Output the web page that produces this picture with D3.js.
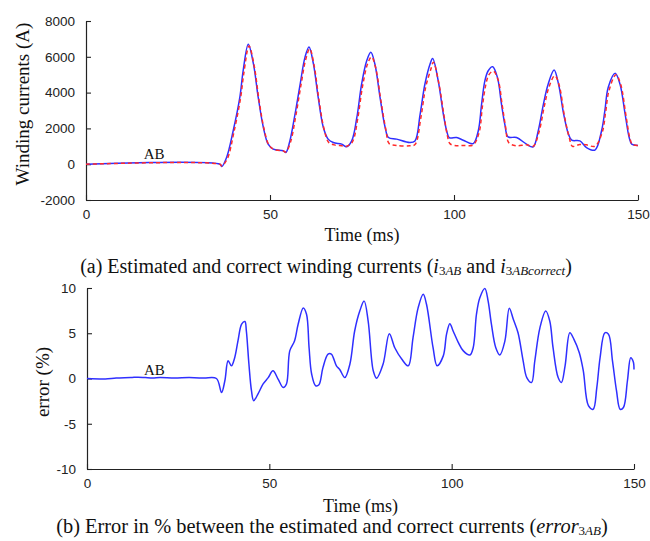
<!DOCTYPE html>
<html>
<head>
<meta charset="utf-8">
<script src="https://cdn.jsdelivr.net/npm/d3@7"></script>
<style>
  html, body { margin: 0; padding: 0; background: #fff; }
  svg { display: block; }
  .tick-label { font-family: "Liberation Sans", Arial, sans-serif; font-size: 13.5px; fill: #222; }
  .serif { font-family: "Liberation Serif", "Times New Roman", serif; fill: #111; }
</style>
</head>
<body>
<svg id="chart" width="650" height="541"></svg>
<script>
// Estimated winding current i3AB (A) against time (ms)
const timeEst = [0, 36.4, 36.9, 38.2, 40.0, 41.8, 42.7, 44.1, 45.5, 46.8, 48.2, 49.5, 50.9, 53.6, 54.3, 55.4,
  56.8, 58.2, 59.5, 60.6, 61.8, 63.1, 64.5, 65.8, 67.2, 69.5, 70.8, 72.2, 73.6, 74.9, 76.3, 77.4, 78.5, 79.9,
  81.3, 82.2, 84.4, 88.0, 89.4, 90.8, 92.1, 93.5, 94.2, 95.7, 97.1, 98.0, 98.7, 100.7, 102.5, 105.2, 106.6,
  107.5, 108.4, 109.3, 110.5, 111.8, 112.9, 113.8, 114.7, 117.0, 119.7, 121.5, 122.9, 124.3, 125.6, 127.2,
  128.4, 129.8, 131.1, 132.0, 134.2, 136.0, 138.3, 140.1, 141.0, 141.9, 143.8, 145.1, 146.5, 147.6, 148.3, 150];
const currentEst = [0, 0, -130, 370, 1870, 3730, 5220, 6700, 5600, 3730, 2050, 1120, 840, 750, 650, 1300,
  2800, 4480, 5970, 6550, 5600, 3730, 2050, 1400, 1210, 1120, 970, 1300, 2610, 4480, 5790, 6250, 5600, 3730,
  2050, 1490, 1400, 1210, 1300, 2800, 4480, 5600, 5900, 4670, 2800, 1870, 1490, 1490, 1340, 1150, 1870,
  3360, 4670, 5220, 5450, 4850, 3360, 2240, 1530, 1490, 1120, 970, 1870, 3360, 4480, 5260,
  4480, 2800, 1680, 1340, 1300, 930, 790, 1870, 2990, 4290, 5080, 4480, 2800, 1490, 1120, 1050];

// Correct winding current i3ABcorrect (A) against time (ms)
const timeCorrect = [0, 36.4, 36.9, 38.4, 40.2, 42.0, 42.9, 44.3, 45.7, 47.0, 48.4, 49.7, 51.1, 53.6, 54.3,
  55.6, 57.0, 58.4, 59.7, 60.8, 62.0, 63.3, 64.7, 66.0, 67.5, 69.5, 70.8, 72.4, 73.8, 75.1, 76.5, 77.6, 78.7,
  80.1, 81.5, 82.4, 84.4, 88.0, 89.4, 91.0, 92.3, 93.7, 94.4, 95.9, 97.3, 98.2, 98.9, 100.7, 102.5, 105.2,
  106.8, 107.7, 108.6, 109.5, 110.7, 112.0, 113.1, 114.0, 114.9, 117.0, 119.7, 121.5, 123.1, 124.5, 125.8,
  127.4, 128.6, 130.0, 131.3, 132.2, 134.2, 136.0, 138.3, 140.3, 141.2, 142.1, 144.0, 145.3, 146.7, 147.8,
  148.5, 150];
const currentCorrect = [0, 0, -100, 300, 1800, 3700, 5100, 6600, 5500, 3600, 1950, 1080, 820, 740, 680,
  1250, 2700, 4400, 5850, 6450, 5500, 3600, 1950, 1200, 1080, 1030, 1000, 1250, 2500, 4300, 5600, 6000, 5400,
  3600, 1900, 1150, 1050, 1030, 1100, 2600, 4300, 5300, 5700, 4500, 2700, 1600, 1150, 1030, 1050, 1080,
  1750, 3200, 4400, 5000, 5200, 4700, 3300, 2100, 1200, 1030, 1080, 1000, 1800, 3200, 4300,
  4950, 4400, 2700, 1500, 1000, 1100, 1080, 1000, 1800, 2900, 4100, 5000, 4450, 2750, 1450,
  1100, 1050];

// Relative error error3AB (%) against time (ms)
const timeErr = [0, 5, 8, 12, 14, 16, 18, 20, 24, 28, 32, 35.5, 36.9, 37.8, 38.7, 39.6, 40.5, 41.4, 42.4,
  43.3, 43.7, 44.4, 45.1, 45.7, 46.9, 48.3, 49.7, 51.0, 52.4, 53.8, 54.7, 55.6, 56.9, 57.9, 59.3, 60.2, 60.9,
  61.6, 62.7, 63.6, 64.7, 66.1, 67.0, 68.4, 69.3, 70.7, 72.1, 73.4, 74.8, 76.0, 77.1, 78.5, 79.4, 81.2, 82.9,
  84.4, 86.3, 88.1, 89.4, 90.8, 92.2, 93.1, 94.9, 96.0, 97.7, 98.6, 99.5, 100.4, 101.8, 103.2, 105.0, 105.9,
  106.8, 107.7, 109.1, 110.0, 110.9, 112.1, 113.2, 114.6, 115.8, 116.9, 118.2, 119.6, 120.6, 121.9, 122.8,
  124.2, 125.8, 126.9, 127.8, 129.2, 130.1, 131.1, 132.4, 133.5, 135.0, 136.1, 137.5, 138.8, 139.8, 140.7,
  142.0, 143.0, 144.1, 145.2, 146.2, 147.1, 148.2, 149.1, 149.8, 150];
const errorVals = [0, -0.05, 0.05, 0.1, 0.15, 0.1, 0.05, 0.1, 0.05, 0.1, 0.05, 0, -1.54, -0.25, 1.95, 1.4,
  2.3, 4.15, 6.0, 6.3, 5.25, 1.6, -1.35, -2.45, -1.7, -0.6, 0.1, 0.85, -0.07, -1.0, -0.6, 3.05, 4.15, 6.0,
  7.8, 7.1, 3.4, 0.5, -0.8, -0.7, 1.2, 2.7, 2.7, 1.4, 1.0, 0.1, 1.6, 5.25, 7.45, 8.55, 6.35, 0.85, 0.04, 1.6,
  4.95, 3.4, 2.15, 1.4, 4.5, 7.8, 9.3, 8.2, 3.4, 1.4, 2.5, 4.9, 6.05, 5.25, 4.0, 3.05, 2.6, 3.4,
  7.1, 8.9, 9.95, 8.55, 6.0, 3.4, 2.6, 4.15, 7.75, 6.55, 5.05, 1.95, 0.1, -0.45, 1.95,
  5.6, 7.45, 6.35, 3.4, 0.1, -0.45, 1.4, 5.05, 4.35, 2.85, 0.85, -3.0, -3.4, -1.0, 2.3,
  5.05, 4.9, 1.95, -1.35, -3.4, -3.2, -0.25, 2.3, 1.85, 1.0];

// Tick values
const timeTicks = [0, 50, 100, 150];
const currentTicks = [-2000, 0, 2000, 4000, 6000, 8000];
const errorTicks = [-10, -5, 0, 5, 10];

const svg = d3.select("#chart");
const BLUE = "#2f2fff";
const RED = "#ff2a2a";

function panel(cfg) {
  const x = d3.scaleLinear().domain([0, 150]).range([cfg.left, cfg.right]);
  const y = d3.scaleLinear().domain(cfg.yDomain).range([cfg.bottom, cfg.top]);
  const g = svg.append("g");
  const plain = d => String(d);

  const xAxis = d3.axisBottom(x).tickValues(timeTicks).tickFormat(plain)
    .tickSizeInner(-5).tickSizeOuter(0).tickPadding(9);
  const gx = g.append("g").attr("transform", `translate(0,${cfg.bottom})`).call(xAxis);
  const yAxis = d3.axisLeft(y).tickValues(cfg.yTicks).tickFormat(plain)
    .tickSizeInner(-5).tickSizeOuter(0).tickPadding(11);
  const gy = g.append("g").attr("transform", `translate(${cfg.left},0)`).call(yAxis);
  [gx, gy].forEach(a => {
    a.select(".domain").attr("stroke", "#222").attr("stroke-width", 1.2);
    a.selectAll(".tick line").attr("stroke", "#222").attr("stroke-width", 1.1);
    a.selectAll(".tick text").attr("class", "tick-label").attr("fill", null);
  });
  gx.selectAll(".tick text").attr("dy", "0.71em");

  const line = d3.line().x(d => x(d[0])).y(d => y(d[1])).curve(d3.curveCatmullRom.alpha(0.5));
  cfg.series.forEach(s => {
    g.append("path")
      .datum(d3.zip(s.t, s.v))
      .attr("d", line)
      .attr("fill", "none")
      .attr("stroke", s.color)
      .attr("stroke-width", 1.5)
      .attr("stroke-dasharray", s.dash || null)
      .attr("stroke-linejoin", "round");
  });

  g.append("text").attr("class", "serif")
    .attr("x", x(18.5)).attr("y", cfg.abY)
    .attr("text-anchor", "middle").attr("font-size", 15)
    .text("AB");

  g.append("text").attr("class", "serif")
    .attr("x", x(75)).attr("y", cfg.xTitleY)
    .attr("text-anchor", "middle").attr("font-size", 18)
    .text("Time (ms)");

  g.append("text").attr("class", "serif")
    .attr("transform", `translate(${cfg.yTitleX},${cfg.yTitleCY}) rotate(-90)`)
    .attr("text-anchor", "middle").attr("font-size", cfg.yTitleSize)
    .text(cfg.yTitle);
}

panel({
  left: 86, right: 638, top: 21, bottom: 200,
  yDomain: [-2000, 8000], yTicks: currentTicks,
  series: [
    { t: timeEst, v: currentEst, color: BLUE },
    { t: timeCorrect, v: currentCorrect, color: RED, dash: "4,3" }
  ],
  abY: 159, xTitleY: 241,
  yTitle: "Winding currents (A)", yTitleX: 29, yTitleCY: 104, yTitleSize: 19
});

panel({
  left: 87, right: 634, top: 288, bottom: 469,
  yDomain: [-10, 10], yTicks: errorTicks,
  series: [ { t: timeErr, v: errorVals, color: BLUE } ],
  abY: 375, xTitleY: 512,
  yTitle: "error (%)", yTitleX: 49, yTitleCY: 382, yTitleSize: 19
});

// Captions with italic subscripted symbols
function caption(x, y, size, parts) {
  const t = svg.append("text").attr("class", "serif")
    .attr("x", x).attr("y", y).attr("text-anchor", "middle").attr("font-size", size);
  parts.forEach(p => {
    const ts = t.append("tspan").text(p.s);
    if (p.italic) ts.attr("font-style", "italic");
    if (p.sub) ts.attr("font-size", 13).attr("baseline-shift", "-2");
  });
  return t;
}

caption(326, 273, 20, [
  { s: "(a) Estimated and correct winding currents (" },
  { s: "i", italic: true }, { s: "3", sub: true }, { s: "AB", sub: true, italic: true },
  { s: " and " },
  { s: "i", italic: true }, { s: "3", sub: true }, { s: "ABcorrect", sub: true, italic: true },
  { s: ")" }
]);

caption(332, 533, 20.4, [
  { s: "(b) Error in % between the estimated and correct currents (" },
  { s: "error", italic: true }, { s: "3", sub: true }, { s: "AB", sub: true, italic: true },
  { s: ")" }
]);
</script>
</body>
</html>
